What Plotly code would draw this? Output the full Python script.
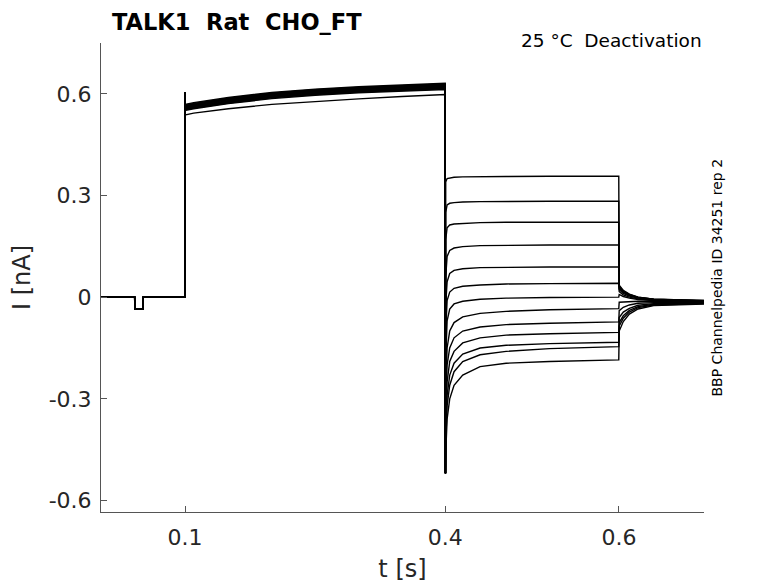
import plotly.graph_objects as go

# ---- sweep data (time in s, current in nA) ----
T_BASE = [0.0032, 0.042, 0.0421, 0.0518, 0.0519, 0.0998]
I_BASE = [0.0, 0.0, -0.035, -0.035, 0.0, 0.0]

T_PRE = [0.1, 0.1004, 0.11, 0.15, 0.2, 0.25, 0.3, 0.35, 0.3998]
I_PRE_BUNDLE = [0.605, 0.56, 0.565, 0.58, 0.595, 0.605, 0.612, 0.618, 0.622]
I_PRE_LOW = [0.6, 0.538, 0.543, 0.556, 0.569, 0.578, 0.585, 0.592, 0.598]
# small spread of the upper bundle, one entry per sweep (None = low sweep)
PRE_OFFSET = [None, 0.009, 0.004, -0.002, -0.007, 0.006, -0.004, 0.002,
              -0.009, 0.007, 0.0, -0.005, 0.003]

T_SPIKE = 0.4001
I_SPIKE = -0.52

T_TAIL = [0.4004, 0.402, 0.405, 0.41, 0.42, 0.44, 0.47, 0.52, 0.5998]
I_TAIL = [
    [0.34, 0.35, 0.352, 0.354, 0.355, 0.356, 0.356, 0.357, 0.357],
    [0.25, 0.272, 0.277, 0.279, 0.281, 0.282, 0.283, 0.283, 0.283],
    [0.17, 0.205, 0.213, 0.216, 0.218, 0.22, 0.221, 0.221, 0.221],
    [0.06, 0.12, 0.138, 0.145, 0.149, 0.152, 0.153, 0.154, 0.154],
    [-0.02, 0.045, 0.07, 0.079, 0.084, 0.087, 0.088, 0.089, 0.089],
    [-0.1, -0.01, 0.015, 0.026, 0.032, 0.036, 0.039, 0.04, 0.041],
    [-0.18, -0.07, -0.035, -0.02, -0.012, -0.006, -0.003, -0.001, 0.0],
    [-0.26, -0.15, -0.1, -0.075, -0.058, -0.048, -0.042, -0.037, -0.034],
    [-0.32, -0.2, -0.15, -0.12, -0.1, -0.088, -0.081, -0.077, -0.073],
    [-0.36, -0.25, -0.19, -0.16, -0.135, -0.12, -0.112, -0.108, -0.104],
    [-0.4, -0.29, -0.23, -0.195, -0.168, -0.15, -0.142, -0.137, -0.133],
    [-0.43, -0.32, -0.26, -0.22, -0.19, -0.17, -0.16, -0.152, -0.146],
    [-0.46, -0.36, -0.3, -0.26, -0.23, -0.205, -0.195, -0.19, -0.185],
]

T_POST = [0.6003, 0.605, 0.612, 0.622, 0.64, 0.698]
I_POST = [
    [0.035, 0.02, 0.009, 0.0, -0.006, -0.01],
    [0.032, 0.018, 0.008, 0.0, -0.006, -0.01],
    [0.029, 0.016, 0.006, -0.001, -0.006, -0.011],
    [0.026, 0.014, 0.005, -0.002, -0.007, -0.011],
    [0.022, 0.011, 0.003, -0.003, -0.008, -0.012],
    [0.016, 0.007, 0.0, -0.005, -0.009, -0.013],
    [0.008, 0.002, -0.003, -0.007, -0.01, -0.014],
    [-0.015, -0.014, -0.013, -0.012, -0.013, -0.015],
    [-0.04, -0.03, -0.023, -0.018, -0.016, -0.016],
    [-0.06, -0.044, -0.033, -0.024, -0.019, -0.017],
    [-0.075, -0.055, -0.039, -0.028, -0.021, -0.018],
    [-0.085, -0.062, -0.044, -0.031, -0.023, -0.019],
    [-0.1, -0.072, -0.05, -0.035, -0.025, -0.02],
]

X_TICKS = [0.1, 0.4, 0.6]
X_TICK_TEXT = ["0.1", "0.4", "0.6"]
Y_TICKS = [-0.6, -0.3, 0, 0.3, 0.6]
Y_TICK_TEXT = ["-0.6", "-0.3", "0", "0.3", "0.6"]

fig = go.Figure()

for k in range(len(I_TAIL)):
    if PRE_OFFSET[k] is None:
        pre = I_PRE_LOW
    else:
        pre = [I_PRE_BUNDLE[0]] + [v + PRE_OFFSET[k] for v in I_PRE_BUNDLE[1:]]
    t = T_BASE + T_PRE + [T_SPIKE] + T_TAIL + T_POST
    i = I_BASE + pre + [I_SPIKE] + I_TAIL[k] + I_POST[k]
    fig.add_trace(go.Scatter(x=t, y=i, mode="lines",
                             line=dict(color="black", width=1.4),
                             showlegend=False, hoverinfo="skip"))

axis_font = dict(family="DejaVu Sans", size=22, color="#262626")

# the page body keeps an 8 px margin, so the figure is 8 px smaller on each side
fig.update_layout(
    width=770, height=575,
    margin=dict(l=93, r=74, t=35, b=71),
    paper_bgcolor="white", plot_bgcolor="white",
    xaxis=dict(range=[0.0032, 0.698], tickvals=X_TICKS, ticktext=X_TICK_TEXT,
               showline=True, linecolor="#555555", linewidth=1,
               ticks="inside", ticklen=6, tickcolor="#555555",
               showgrid=False, zeroline=False, tickfont=axis_font,
               ticklabelstandoff=6, automargin=False,
               title=dict(text="t [s]", font=dict(family="DejaVu Sans", size=24, color="#262626"),
                          standoff=13)),
    yaxis=dict(range=[-0.634, 0.75], tickvals=Y_TICKS, ticktext=Y_TICK_TEXT,
               showline=True, linecolor="#555555", linewidth=1,
               ticks="inside", ticklen=6, tickcolor="#555555",
               showgrid=False, zeroline=False, tickfont=axis_font,
               ticklabelstandoff=4, automargin=False,
               title=dict(text="I [nA]", font=dict(family="DejaVu Sans", size=24, color="#262626"),
                          standoff=14)),
    annotations=[
        dict(text="<b>TALK1\u00a0\u00a0Rat\u00a0\u00a0CHO_FT</b>", xref="paper", yref="paper",
             x=0.015, y=1.045, xanchor="left", yanchor="middle", showarrow=False,
             font=dict(family="DejaVu Sans", size=22.5, color="black")),
        dict(text="25 °C\u00a0\u00a0Deactivation", xref="paper", yref="paper",
             x=1.0, y=1.006, xanchor="right", yanchor="middle", showarrow=False,
             font=dict(family="DejaVu Sans", size=18.5, color="black")),
        dict(text="BBP Channelpedia ID 34251 rep 2", xref="paper", yref="paper",
             x=1.0 + 12 / 603, y=0.5, xanchor="center", yanchor="middle",
             textangle=-90, showarrow=False,
             font=dict(family="DejaVu Sans", size=14, color="black")),
    ],
)

fig.write_html("out.html")
